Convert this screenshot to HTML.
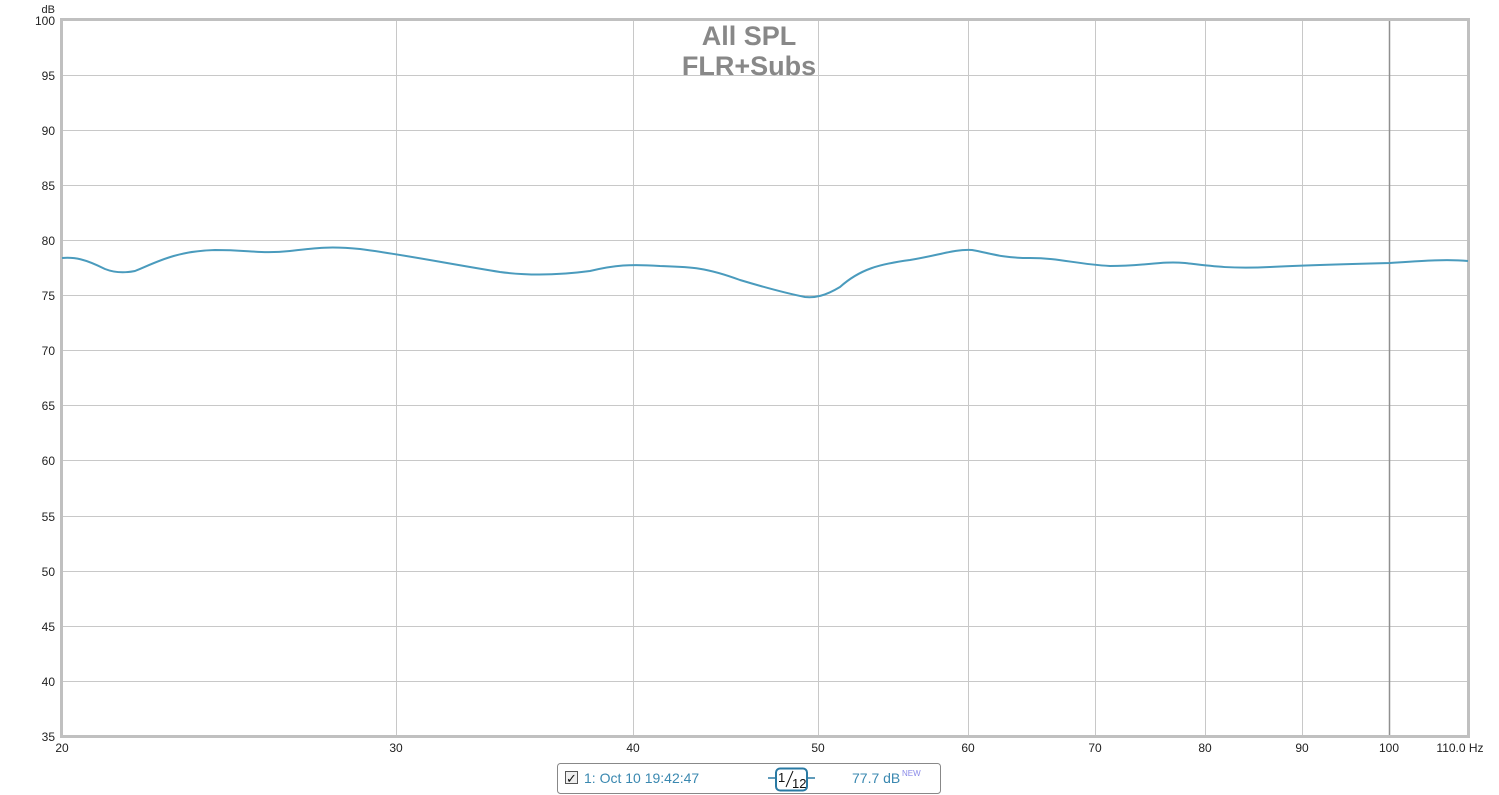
<!DOCTYPE html>
<html><head><meta charset="utf-8"><style>
body{margin:0;background:#fff;}
svg{display:block;font-family:"Liberation Sans",sans-serif;}
</style></head><body>
<svg width="1499" height="795" viewBox="0 0 1499 795">
<rect width="1499" height="795" fill="#fff"/>
<g stroke="#c8c8c8" stroke-width="1">
<line x1="62" x2="1468" y1="75.5" y2="75.5"/><line x1="62" x2="1468" y1="130.5" y2="130.5"/>
<line x1="62" x2="1468" y1="185.5" y2="185.5"/><line x1="62" x2="1468" y1="240.5" y2="240.5"/>
<line x1="62" x2="1468" y1="295.5" y2="295.5"/><line x1="62" x2="1468" y1="350.5" y2="350.5"/>
<line x1="62" x2="1468" y1="405.5" y2="405.5"/><line x1="62" x2="1468" y1="460.5" y2="460.5"/>
<line x1="62" x2="1468" y1="516.5" y2="516.5"/><line x1="62" x2="1468" y1="571.5" y2="571.5"/>
<line x1="62" x2="1468" y1="626.5" y2="626.5"/><line x1="62" x2="1468" y1="681.5" y2="681.5"/>
<line x1="396.5" x2="396.5" y1="20" y2="736"/><line x1="633.5" x2="633.5" y1="20" y2="736"/>
<line x1="818.5" x2="818.5" y1="20" y2="736"/><line x1="968.5" x2="968.5" y1="20" y2="736"/>
<line x1="1095.5" x2="1095.5" y1="20" y2="736"/><line x1="1205.5" x2="1205.5" y1="20" y2="736"/>
<line x1="1302.5" x2="1302.5" y1="20" y2="736"/>
</g>
<line x1="1389.5" x2="1389.5" y1="20" y2="736" stroke="#909090" stroke-width="1.5"/>
<rect x="61.5" y="19.5" width="1407" height="717" fill="none" stroke="#c0c0c0" stroke-width="3"/>
<text x="749" y="45" font-size="27" font-weight="bold" fill="#888" text-anchor="middle">All SPL</text>
<text x="749" y="75" font-size="27" font-weight="bold" fill="#888" text-anchor="middle">FLR+Subs</text>
<g font-size="12" fill="#222" text-anchor="end">
<text x="55" y="13" font-size="11">dB</text>
<text x="55" y="25">100</text><text x="55" y="80">95</text><text x="55" y="135">90</text>
<text x="55" y="190">85</text><text x="55" y="245">80</text><text x="55" y="300">75</text>
<text x="55" y="355">70</text><text x="55" y="410">65</text><text x="55" y="465">60</text>
<text x="55" y="521">55</text><text x="55" y="576">50</text><text x="55" y="631">45</text>
<text x="55" y="686">40</text><text x="55" y="741">35</text>
</g>
<g font-size="12" fill="#222" text-anchor="middle">
<text x="62" y="752">20</text><text x="396" y="752">30</text><text x="633" y="752">40</text>
<text x="818" y="752">50</text><text x="968" y="752">60</text><text x="1095" y="752">70</text>
<text x="1205" y="752">80</text><text x="1302" y="752">90</text><text x="1389" y="752">100</text>
<text x="1460" y="752">110.0 Hz</text>
</g>
<path fill="none" stroke="#4a9bbd" stroke-width="2" d="M62,258 C75,257 85,259 105,269 C115,273 125,273 135,271 C155,263 175,251 215,250 C250,250 260,254 290,251 C315,248 330,246 360,249 C400,254 450,264 500,272 C530,276 560,275 590,271 C615,265 630,264 660,266 C690,267 705,267 740,280 C770,289 790,294 805,297 C815,298 825,296 840,287 C860,269 880,264 910,260 C940,255 955,249 972,250 C990,253 1000,258 1030,258 C1060,258 1075,264 1110,266 C1145,266 1160,261 1185,263 C1210,266 1230,269 1270,267 C1310,265 1350,264 1390,263 C1420,261 1445,259 1468,261"/>
<rect x="557.5" y="763.5" width="383" height="30" rx="3" fill="#fff" stroke="#888"/>
<rect x="565.5" y="771.5" width="12" height="12" fill="#eee" stroke="#555"/>
<text x="566" y="783" font-size="13" fill="#111">✓</text>
<text x="584" y="783" font-size="14" fill="#3a88b0">1: Oct 10 19:42:47</text>
<line x1="768" x2="815" y1="778" y2="778" stroke="#2a7aa3" stroke-width="1.5"/>
<rect x="776" y="768.5" width="31" height="22" rx="4" fill="#fff" stroke="#2a7aa3" stroke-width="2"/>
<text x="778" y="782" font-size="13" fill="#111">1</text>
<line x1="786" y1="787" x2="793" y2="771" stroke="#111" stroke-width="1"/>
<text x="792" y="788" font-size="13" fill="#111">12</text>
<text x="852" y="783" font-size="14" fill="#3a88b0">77.7 dB</text>
<text x="902" y="776" font-size="8" fill="#8a8ae8">NEW</text>
</svg>
</body></html>
